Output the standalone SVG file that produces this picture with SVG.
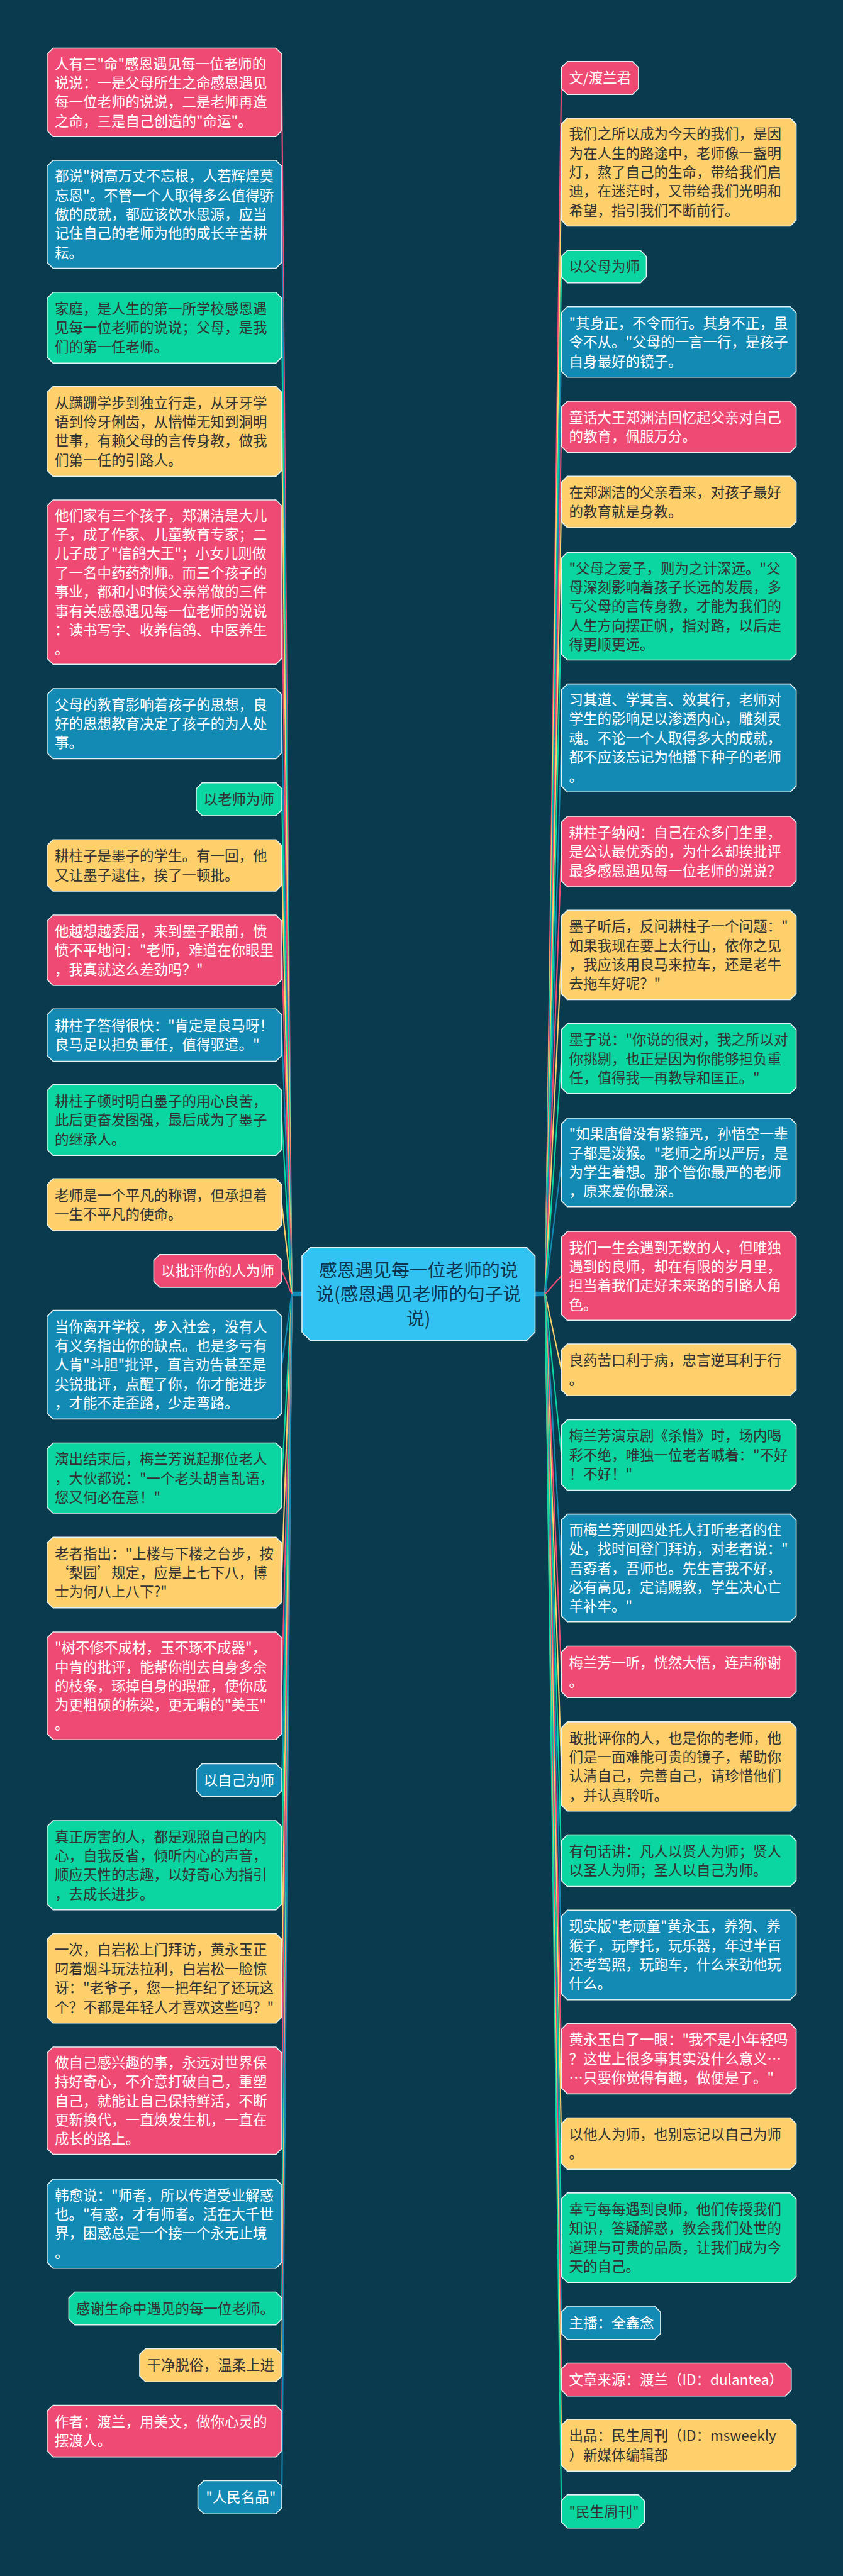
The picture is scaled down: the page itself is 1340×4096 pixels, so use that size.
<svg xmlns="http://www.w3.org/2000/svg" width="1340" height="4096" viewBox="0 0 1340 4096">
<style>
.nd{stroke:#e4f1f1;stroke-width:3}
.pk{fill:#ef4a73}.bl{fill:#128ab4}.gr{fill:#0bd5a0}.ye{fill:#fdd06c}
.t{font-family:"Noto Sans CJK SC","Noto Sans",sans-serif;font-size:43px}
.w{fill:#ffffff}.d{fill:#333333}
.cn{fill:none;stroke-width:4}
.cpk{stroke:#ef4a73}.cbl{stroke:#128ab4}.cgr{stroke:#0bd5a0}.cye{stroke:#fdd06c}
</style>
<rect x="0" y="0" width="1340" height="4096" fill="#0a3a4d"/>
<g transform="scale(0.5234)">
<g id="connectors">
<path class="cn cbl" d="M917,3931H884" style="stroke-width:14"/>
<path class="cn cbl" d="M1625,3931H1658" style="stroke-width:14"/>
<path class="cn cpk" d="M886,3931L856,280.5"/>
<path class="cn cbl" d="M886,3931L856,651"/>
<path class="cn cgr" d="M886,3931L856,995.5"/>
<path class="cn cye" d="M886,3931L856,1310.5"/>
<path class="cn cpk" d="M886,3931L856,1768.5"/>
<path class="cn cbl" d="M886,3931L856,2198.5"/>
<path class="cn cgr" d="M886,3931L856,2428"/>
<path class="cn cye" d="M886,3931L856,2629"/>
<path class="cn cpk" d="M886,3931L856,2887"/>
<path class="cn cbl" d="M886,3931L856,3144.5"/>
<path class="cn cgr" d="M886,3931L856,3402.5"/>
<path class="cn cye" d="M886,3931L856,3660"/>
<path class="cn cpk" d="M886,3931L856,3861"/>
<path class="cn cbl" d="M886,3931L856,4146"/>
<path class="cn cgr" d="M886,3931L856,4490.5"/>
<path class="cn cye" d="M886,3931L856,4777.5"/>
<path class="cn cpk" d="M886,3931L856,5121.5"/>
<path class="cn cbl" d="M886,3931L856,5408"/>
<path class="cn cgr" d="M886,3931L856,5666.5"/>
<path class="cn cye" d="M886,3931L856,6010"/>
<path class="cn cpk" d="M886,3931L856,6382"/>
<path class="cn cbl" d="M886,3931L856,6755.5"/>
<path class="cn cgr" d="M886,3931L856,7013"/>
<path class="cn cye" d="M886,3931L856,7185.5"/>
<path class="cn cpk" d="M886,3931L856,7385.5"/>
<path class="cn cbl" d="M886,3931L856,7586.5"/>
<path class="cn cpk" d="M1656,3931L1705,237"/>
<path class="cn cye" d="M1656,3931L1705,523"/>
<path class="cn cgr" d="M1656,3931L1705,810"/>
<path class="cn cbl" d="M1656,3931L1705,1039"/>
<path class="cn cpk" d="M1656,3931L1705,1296.5"/>
<path class="cn cye" d="M1656,3931L1705,1525"/>
<path class="cn cgr" d="M1656,3931L1705,1841.5"/>
<path class="cn cbl" d="M1656,3931L1705,2242"/>
<path class="cn cpk" d="M1656,3931L1705,2587"/>
<path class="cn cye" d="M1656,3931L1705,2901"/>
<path class="cn cgr" d="M1656,3931L1705,3216"/>
<path class="cn cbl" d="M1656,3931L1705,3531.5"/>
<path class="cn cpk" d="M1656,3931L1705,3876"/>
<path class="cn cye" d="M1656,3931L1705,4161.5"/>
<path class="cn cgr" d="M1656,3931L1705,4420"/>
<path class="cn cbl" d="M1656,3931L1705,4763.5"/>
<path class="cn cpk" d="M1656,3931L1705,5079"/>
<path class="cn cye" d="M1656,3931L1705,5366.5"/>
<path class="cn cgr" d="M1656,3931L1705,5652.5"/>
<path class="cn cbl" d="M1656,3931L1705,5939"/>
<path class="cn cpk" d="M1656,3931L1705,6254"/>
<path class="cn cye" d="M1656,3931L1705,6512"/>
<path class="cn cgr" d="M1656,3931L1705,6798"/>
<path class="cn cbl" d="M1656,3931L1705,7056.5"/>
<path class="cn cpk" d="M1656,3931L1705,7229"/>
<path class="cn cye" d="M1656,3931L1705,7428.5"/>
<path class="cn cgr" d="M1656,3931L1705,7629.5"/>
</g>

<g id="center">
<path d="M942,3790H1600L1625,3815V4047L1600,4072H942L917,4047V3815Z" fill="#33c3f3" stroke="#e4f1f1" stroke-width="3"/>
<text x="1271" text-anchor="middle" style="font-family:'Noto Sans CJK SC','Noto Sans',sans-serif;font-size:55px;fill:#0e3550"><tspan x="1271" y="3878">感恩遇见每一位老师的说</tspan><tspan x="1271" y="3952">说(感恩遇见老师的句子说</tspan><tspan x="1271" y="4026">说)</tspan></text>
</g>

<g id="l1"><path class="nd pk" d="M161,146H838L856,164V397L838,415H161L143,397V164Z"/><text class="t w"><tspan x="166" y="209.5">人有三"命"感恩遇见每一位老师的</tspan><tspan x="166" y="267.5">说说：一是父母所生之命感恩遇见</tspan><tspan x="166" y="325.5">每一位老师的说说，二是老师再造</tspan><tspan x="166" y="383.5">之命，三是自己创造的"命运"。</tspan></text></g>
<g id="l2"><path class="nd bl" d="M161,487H838L856,505V797L838,815H161L143,797V505Z"/><text class="t w"><tspan x="166" y="551">都说"树高万丈不忘根，人若辉煌莫</tspan><tspan x="166" y="609">忘恩"。不管一个人取得多么值得骄</tspan><tspan x="166" y="667">傲的成就，都应该饮水思源，应当</tspan><tspan x="166" y="725">记住自己的老师为他的成长辛苦耕</tspan><tspan x="166" y="783">耘。</tspan></text></g>
<g id="l3"><path class="nd gr" d="M161,888H838L856,906V1085L838,1103H161L143,1085V906Z"/><text class="t d"><tspan x="166" y="953.5">家庭，是人生的第一所学校感恩遇</tspan><tspan x="166" y="1011.5">见每一位老师的说说；父母，是我</tspan><tspan x="166" y="1069.5">们的第一任老师。</tspan></text></g>
<g id="l4"><path class="nd ye" d="M161,1174H838L856,1192V1429L838,1447H161L143,1429V1192Z"/><text class="t d"><tspan x="166" y="1239.5">从蹒跚学步到独立行走，从牙牙学</tspan><tspan x="166" y="1297.5">语到伶牙俐齿，从懵懂无知到洞明</tspan><tspan x="166" y="1355.5">世事，有赖父母的言传身教，做我</tspan><tspan x="166" y="1413.5">们第一任的引路人。</tspan></text></g>
<g id="l5"><path class="nd pk" d="M161,1519H838L856,1537V2000L838,2018H161L143,2000V1537Z"/><text class="t w"><tspan x="166" y="1581.5">他们家有三个孩子，郑渊洁是大儿</tspan><tspan x="166" y="1639.5">子，成了作家、儿童教育专家；二</tspan><tspan x="166" y="1697.5">儿子成了"信鸽大王"；小女儿则做</tspan><tspan x="166" y="1755.5">了一名中药药剂师。而三个孩子的</tspan><tspan x="166" y="1813.5">事业，都和小时候父亲常做的三件</tspan><tspan x="166" y="1871.5">事有关感恩遇见每一位老师的说说</tspan><tspan x="166" y="1929.5">：读书写字、收养信鸽、中医养生</tspan><tspan x="166" y="1987.5">。</tspan></text></g>
<g id="l6"><path class="nd bl" d="M161,2092H838L856,2110V2287L838,2305H161L143,2287V2110Z"/><text class="t w"><tspan x="166" y="2156.5">父母的教育影响着孩子的思想，良</tspan><tspan x="166" y="2214.5">好的思想教育决定了孩子的为人处</tspan><tspan x="166" y="2272.5">事。</tspan></text></g>
<g id="l7"><path class="nd gr" d="M614,2378H838L856,2396V2460L838,2478H614L596,2460V2396Z"/><text class="t d"><tspan x="618" y="2444">以老师为师</tspan></text></g>
<g id="l8"><path class="nd ye" d="M161,2551H838L856,2569V2689L838,2707H161L143,2689V2569Z"/><text class="t d"><tspan x="166" y="2616">耕柱子是墨子的学生。有一回，他</tspan><tspan x="166" y="2674">又让墨子逮住，挨了一顿批。</tspan></text></g>
<g id="l9"><path class="nd pk" d="M161,2780H838L856,2798V2976L838,2994H161L143,2976V2798Z"/><text class="t w"><tspan x="166" y="2845">他越想越委屈，来到墨子跟前，愤</tspan><tspan x="166" y="2903">愤不平地问："老师，难道在你眼里</tspan><tspan x="166" y="2961">，我真就这么差劲吗？"</tspan></text></g>
<g id="l10"><path class="nd bl" d="M161,3065H838L856,3083V3206L838,3224H161L143,3206V3083Z"/><text class="t w"><tspan x="166" y="3131.5">耕柱子答得很快："肯定是良马呀！</tspan><tspan x="166" y="3189.5">良马足以担负重任，值得驱遣。"</tspan></text></g>
<g id="l11"><path class="nd gr" d="M161,3295H838L856,3313V3492L838,3510H161L143,3492V3313Z"/><text class="t d"><tspan x="166" y="3360.5">耕柱子顿时明白墨子的用心良苦，</tspan><tspan x="166" y="3418.5">此后更奋发图强，最后成为了墨子</tspan><tspan x="166" y="3476.5">的继承人。</tspan></text></g>
<g id="l12"><path class="nd ye" d="M161,3581H838L856,3599V3721L838,3739H161L143,3721V3599Z"/><text class="t d"><tspan x="166" y="3647">老师是一个平凡的称谓，但承担着</tspan><tspan x="166" y="3705">一生不平凡的使命。</tspan></text></g>
<g id="l13"><path class="nd pk" d="M485,3811H838L856,3829V3893L838,3911H485L467,3893V3829Z"/><text class="t w"><tspan x="489" y="3877">以批评你的人为师</tspan></text></g>
<g id="l14"><path class="nd bl" d="M161,3981H838L856,3999V4293L838,4311H161L143,4293V3999Z"/><text class="t w"><tspan x="166" y="4046">当你离开学校，步入社会，没有人</tspan><tspan x="166" y="4104">有义务指出你的缺点。也是多亏有</tspan><tspan x="166" y="4162">人肯"斗胆"批评，直言劝告甚至是</tspan><tspan x="166" y="4220">尖锐批评，点醒了你，你才能进步</tspan><tspan x="166" y="4278">，才能不走歪路，少走弯路。</tspan></text></g>
<g id="l15"><path class="nd gr" d="M161,4384H838L856,4402V4579L838,4597H161L143,4579V4402Z"/><text class="t d"><tspan x="166" y="4448.5">演出结束后，梅兰芳说起那位老人</tspan><tspan x="166" y="4506.5">，大伙都说："一个老头胡言乱语，</tspan><tspan x="166" y="4564.5">您又何必在意！"</tspan></text></g>
<g id="l16"><path class="nd ye" d="M161,4670H838L856,4688V4867L838,4885H161L143,4867V4688Z"/><text class="t d"><tspan x="166" y="4735.5">老者指出："上楼与下楼之台步，按</tspan><tspan x="166" y="4793.5">‘梨园’规定，应是上七下八，博</tspan><tspan x="166" y="4851.5">士为何八上八下?"</tspan></text></g>
<g id="l17"><path class="nd pk" d="M161,4958H838L856,4976V5267L838,5285H161L143,5267V4976Z"/><text class="t w"><tspan x="166" y="5021.5">"树不修不成材，玉不琢不成器"，</tspan><tspan x="166" y="5079.5">中肯的批评，能帮你削去自身多余</tspan><tspan x="166" y="5137.5">的枝条，琢掉自身的瑕疵，使你成</tspan><tspan x="166" y="5195.5">为更粗硕的栋梁，更无暇的"美玉"</tspan><tspan x="166" y="5253.5">。</tspan></text></g>
<g id="l18"><path class="nd bl" d="M614,5358H838L856,5376V5440L838,5458H614L596,5440V5376Z"/><text class="t w"><tspan x="618" y="5424">以自己为师</tspan></text></g>
<g id="l19"><path class="nd gr" d="M161,5531H838L856,5549V5784L838,5802H161L143,5784V5549Z"/><text class="t d"><tspan x="166" y="5595.5">真正厉害的人，都是观照自己的内</tspan><tspan x="166" y="5653.5">心，自我反省，倾听内心的声音，</tspan><tspan x="166" y="5711.5">顺应天性的志趣，以好奇心为指引</tspan><tspan x="166" y="5769.5">，去成长进步。</tspan></text></g>
<g id="l20"><path class="nd ye" d="M161,5874H838L856,5892V6128L838,6146H161L143,6128V5892Z"/><text class="t d"><tspan x="166" y="5939">一次，白岩松上门拜访，黄永玉正</tspan><tspan x="166" y="5997">叼着烟斗玩法拉利，白岩松一脸惊</tspan><tspan x="166" y="6055">讶："老爷子，您一把年纪了还玩这</tspan><tspan x="166" y="6113">个？不都是年轻人才喜欢这些吗？"</tspan></text></g>
<g id="l21"><path class="nd pk" d="M161,6219H838L856,6237V6527L838,6545H161L143,6527V6237Z"/><text class="t w"><tspan x="166" y="6282">做自己感兴趣的事，永远对世界保</tspan><tspan x="166" y="6340">持好奇心，不介意打破自己，重塑</tspan><tspan x="166" y="6398">自己，就能让自己保持鲜活，不断</tspan><tspan x="166" y="6456">更新换代，一直焕发生机，一直在</tspan><tspan x="166" y="6514">成长的路上。</tspan></text></g>
<g id="l22"><path class="nd bl" d="M161,6620H838L856,6638V6873L838,6891H161L143,6873V6638Z"/><text class="t w"><tspan x="166" y="6684.5">韩愈说："师者，所以传道受业解惑</tspan><tspan x="166" y="6742.5">也。"有惑，才有师者。活在大千世</tspan><tspan x="166" y="6800.5">界，困惑总是一个接一个永无止境</tspan><tspan x="166" y="6858.5">。</tspan></text></g>
<g id="l23"><path class="nd gr" d="M227,6963H838L856,6981V7045L838,7063H227L209,7045V6981Z"/><text class="t d"><tspan x="231" y="7029">感谢生命中遇见的每一位老师。</tspan></text></g>
<g id="l24"><path class="nd ye" d="M442,7135H838L856,7153V7218L838,7236H442L424,7218V7153Z"/><text class="t d"><tspan x="446" y="7201.5">干净脱俗，温柔上进</tspan></text></g>
<g id="l25"><path class="nd pk" d="M161,7307H838L856,7325V7446L838,7464H161L143,7446V7325Z"/><text class="t w"><tspan x="166" y="7372.5">作者：渡兰，用美文，做你心灵的</tspan><tspan x="166" y="7430.5">摆渡人。</tspan></text></g>
<g id="l26"><path class="nd bl" d="M619,7536H838L856,7554V7619L838,7637H619L601,7619V7554Z"/><text class="t w"><tspan x="625" y="7602.5">"人民名品"</tspan></text></g>

<g id="r1"><path class="nd pk" d="M1723,187H1921L1939,205V269L1921,287H1723L1705,269V205Z"/><text class="t w"><tspan x="1728" y="253">文/渡兰君</tspan></text></g>
<g id="r2"><path class="nd ye" d="M1723,359H2400L2418,377V669L2400,687H1723L1705,669V377Z"/><text class="t d"><tspan x="1728" y="423">我们之所以成为今天的我们，是因</tspan><tspan x="1728" y="481">为在人生的路途中，老师像一盏明</tspan><tspan x="1728" y="539">灯，熬了自己的生命，带给我们启</tspan><tspan x="1728" y="597">迪，在迷茫时，又带给我们光明和</tspan><tspan x="1728" y="655">希望，指引我们不断前行。</tspan></text></g>
<g id="r3"><path class="nd gr" d="M1723,761H1945L1963,779V841L1945,859H1723L1705,841V779Z"/><text class="t d"><tspan x="1728" y="826">以父母为师</tspan></text></g>
<g id="r4"><path class="nd bl" d="M1723,932H2400L2418,950V1128L2400,1146H1723L1705,1128V950Z"/><text class="t w"><tspan x="1728" y="997">"其身正，不令而行。其身不正，虽</tspan><tspan x="1728" y="1055">令不从。"父母的一言一行，是孩子</tspan><tspan x="1728" y="1113">自身最好的镜子。</tspan></text></g>
<g id="r5"><path class="nd pk" d="M1723,1219H2400L2418,1237V1356L2400,1374H1723L1705,1356V1237Z"/><text class="t w"><tspan x="1728" y="1283.5">童话大王郑渊洁回忆起父亲对自己</tspan><tspan x="1728" y="1341.5">的教育，佩服万分。</tspan></text></g>
<g id="r6"><path class="nd ye" d="M1723,1447H2400L2418,1465V1585L2400,1603H1723L1705,1585V1465Z"/><text class="t d"><tspan x="1728" y="1512">在郑渊洁的父亲看来，对孩子最好</tspan><tspan x="1728" y="1570">的教育就是身教。</tspan></text></g>
<g id="r7"><path class="nd gr" d="M1723,1678H2400L2418,1696V1987L2400,2005H1723L1705,1987V1696Z"/><text class="t d"><tspan x="1728" y="1741.5">"父母之爱子，则为之计深远。"父</tspan><tspan x="1728" y="1799.5">母深刻影响着孩子长远的发展，多</tspan><tspan x="1728" y="1857.5">亏父母的言传身教，才能为我们的</tspan><tspan x="1728" y="1915.5">人生方向摆正帆，指对路，以后走</tspan><tspan x="1728" y="1973.5">得更顺更远。</tspan></text></g>
<g id="r8"><path class="nd bl" d="M1723,2078H2400L2418,2096V2388L2400,2406H1723L1705,2388V2096Z"/><text class="t w"><tspan x="1728" y="2142">习其道、学其言、效其行，老师对</tspan><tspan x="1728" y="2200">学生的影响足以渗透内心，雕刻灵</tspan><tspan x="1728" y="2258">魂。不论一个人取得多大的成就，</tspan><tspan x="1728" y="2316">都不应该忘记为他播下种子的老师</tspan><tspan x="1728" y="2374">。</tspan></text></g>
<g id="r9"><path class="nd pk" d="M1723,2480H2400L2418,2498V2676L2400,2694H1723L1705,2676V2498Z"/><text class="t w"><tspan x="1728" y="2545">耕柱子纳闷：自己在众多门生里，</tspan><tspan x="1728" y="2603">是公认最优秀的，为什么却挨批评</tspan><tspan x="1728" y="2661">最多感恩遇见每一位老师的说说？</tspan></text></g>
<g id="r10"><path class="nd ye" d="M1723,2765H2400L2418,2783V3019L2400,3037H1723L1705,3019V2783Z"/><text class="t d"><tspan x="1728" y="2830">墨子听后，反问耕柱子一个问题："</tspan><tspan x="1728" y="2888">如果我现在要上太行山，依你之见</tspan><tspan x="1728" y="2946">，我应该用良马来拉车，还是老牛</tspan><tspan x="1728" y="3004">去拖车好呢？"</tspan></text></g>
<g id="r11"><path class="nd gr" d="M1723,3110H2400L2418,3128V3304L2400,3322H1723L1705,3304V3128Z"/><text class="t d"><tspan x="1728" y="3174">墨子说："你说的很对，我之所以对</tspan><tspan x="1728" y="3232">你挑剔，也正是因为你能够担负重</tspan><tspan x="1728" y="3290">任，值得我一再教导和匡正。"</tspan></text></g>
<g id="r12"><path class="nd bl" d="M1723,3397H2400L2418,3415V3648L2400,3666H1723L1705,3648V3415Z"/><text class="t w"><tspan x="1728" y="3460.5">"如果唐僧没有紧箍咒，孙悟空一辈</tspan><tspan x="1728" y="3518.5">子都是泼猴。"老师之所以严厉，是</tspan><tspan x="1728" y="3576.5">为学生着想。那个管你最严的老师</tspan><tspan x="1728" y="3634.5">，原来爱你最深。</tspan></text></g>
<g id="r13"><path class="nd pk" d="M1723,3741H2400L2418,3759V3993L2400,4011H1723L1705,3993V3759Z"/><text class="t w"><tspan x="1728" y="3805">我们一生会遇到无数的人，但唯独</tspan><tspan x="1728" y="3863">遇到的良师，却在有限的岁月里，</tspan><tspan x="1728" y="3921">担当着我们走好未来路的引路人角</tspan><tspan x="1728" y="3979">色。</tspan></text></g>
<g id="r14"><path class="nd ye" d="M1723,4083H2400L2418,4101V4222L2400,4240H1723L1705,4222V4101Z"/><text class="t d"><tspan x="1728" y="4148.5">良药苦口利于病，忠言逆耳利于行</tspan><tspan x="1728" y="4206.5">。</tspan></text></g>
<g id="r15"><path class="nd gr" d="M1723,4313H2400L2418,4331V4509L2400,4527H1723L1705,4509V4331Z"/><text class="t d"><tspan x="1728" y="4378">梅兰芳演京剧《杀惜》时，场内喝</tspan><tspan x="1728" y="4436">彩不绝，唯独一位老者喊着："不好</tspan><tspan x="1728" y="4494">！不好！"</tspan></text></g>
<g id="r16"><path class="nd bl" d="M1723,4600H2400L2418,4618V4909L2400,4927H1723L1705,4909V4618Z"/><text class="t w"><tspan x="1728" y="4663.5">而梅兰芳则四处托人打听老者的住</tspan><tspan x="1728" y="4721.5">处，找时间登门拜访，对老者说："</tspan><tspan x="1728" y="4779.5">吾孬者，吾师也。先生言我不好，</tspan><tspan x="1728" y="4837.5">必有高见，定请赐教，学生决心亡</tspan><tspan x="1728" y="4895.5">羊补牢。"</tspan></text></g>
<g id="r17"><path class="nd pk" d="M1723,5001H2400L2418,5019V5139L2400,5157H1723L1705,5139V5019Z"/><text class="t w"><tspan x="1728" y="5066">梅兰芳一听，恍然大悟，连声称谢</tspan><tspan x="1728" y="5124">。</tspan></text></g>
<g id="r18"><path class="nd ye" d="M1723,5231H2400L2418,5249V5484L2400,5502H1723L1705,5484V5249Z"/><text class="t d"><tspan x="1728" y="5295.5">敢批评你的人，也是你的老师，他</tspan><tspan x="1728" y="5353.5">们是一面难能可贵的镜子，帮助你</tspan><tspan x="1728" y="5411.5">认清自己，完善自己，请珍惜他们</tspan><tspan x="1728" y="5469.5">，并认真聆听。</tspan></text></g>
<g id="r19"><path class="nd gr" d="M1723,5574H2400L2418,5592V5713L2400,5731H1723L1705,5713V5592Z"/><text class="t d"><tspan x="1728" y="5639.5">有句话讲：凡人以贤人为师；贤人</tspan><tspan x="1728" y="5697.5">以圣人为师；圣人以自己为师。</tspan></text></g>
<g id="r20"><path class="nd bl" d="M1723,5803H2400L2418,5821V6057L2400,6075H1723L1705,6057V5821Z"/><text class="t w"><tspan x="1728" y="5868">现实版"老顽童"黄永玉，养狗、养</tspan><tspan x="1728" y="5926">猴子，玩摩托，玩乐器，年过半百</tspan><tspan x="1728" y="5984">还考驾照，玩跑车，什么来劲他玩</tspan><tspan x="1728" y="6042">什么。</tspan></text></g>
<g id="r21"><path class="nd pk" d="M1723,6147H2400L2418,6165V6343L2400,6361H1723L1705,6343V6165Z"/><text class="t w"><tspan x="1728" y="6212">黄永玉白了一眼："我不是小年轻吗</tspan><tspan x="1728" y="6270">？这世上很多事其实没什么意义…</tspan><tspan x="1728" y="6328">…只要你觉得有趣，做便是了。"</tspan></text></g>
<g id="r22"><path class="nd ye" d="M1723,6434H2400L2418,6452V6572L2400,6590H1723L1705,6572V6452Z"/><text class="t d"><tspan x="1728" y="6499">以他人为师，也别忘记以自己为师</tspan><tspan x="1728" y="6557">。</tspan></text></g>
<g id="r23"><path class="nd gr" d="M1723,6662H2400L2418,6680V6916L2400,6934H1723L1705,6916V6680Z"/><text class="t d"><tspan x="1728" y="6727">幸亏每每遇到良师，他们传授我们</tspan><tspan x="1728" y="6785">知识，答疑解惑，教会我们处世的</tspan><tspan x="1728" y="6843">道理与可贵的品质，让我们成为今</tspan><tspan x="1728" y="6901">天的自己。</tspan></text></g>
<g id="r24"><path class="nd bl" d="M1723,7006H1988L2006,7024V7089L1988,7107H1723L1705,7089V7024Z"/><text class="t w"><tspan x="1728" y="7072.5">主播：全鑫念</tspan></text></g>
<g id="r25"><path class="nd pk" d="M1723,7179H2385L2403,7197V7261L2385,7279H1723L1705,7261V7197Z"/><text class="t w"><tspan x="1728" y="7245">文章来源：渡兰（ID：dulantea）</tspan></text></g>
<g id="r26"><path class="nd ye" d="M1723,7350H2400L2418,7368V7489L2400,7507H1723L1705,7489V7368Z"/><text class="t d"><tspan x="1728" y="7415.5">出品：民生周刊（ID：msweekly</tspan><tspan x="1728" y="7473.5">）新媒体编辑部</tspan></text></g>
<g id="r27"><path class="nd gr" d="M1723,7579H1939L1957,7597V7662L1939,7680H1723L1705,7662V7597Z"/><text class="t d"><tspan x="1728" y="7645.5">"民生周刊"</tspan></text></g>
</g>
</svg>
